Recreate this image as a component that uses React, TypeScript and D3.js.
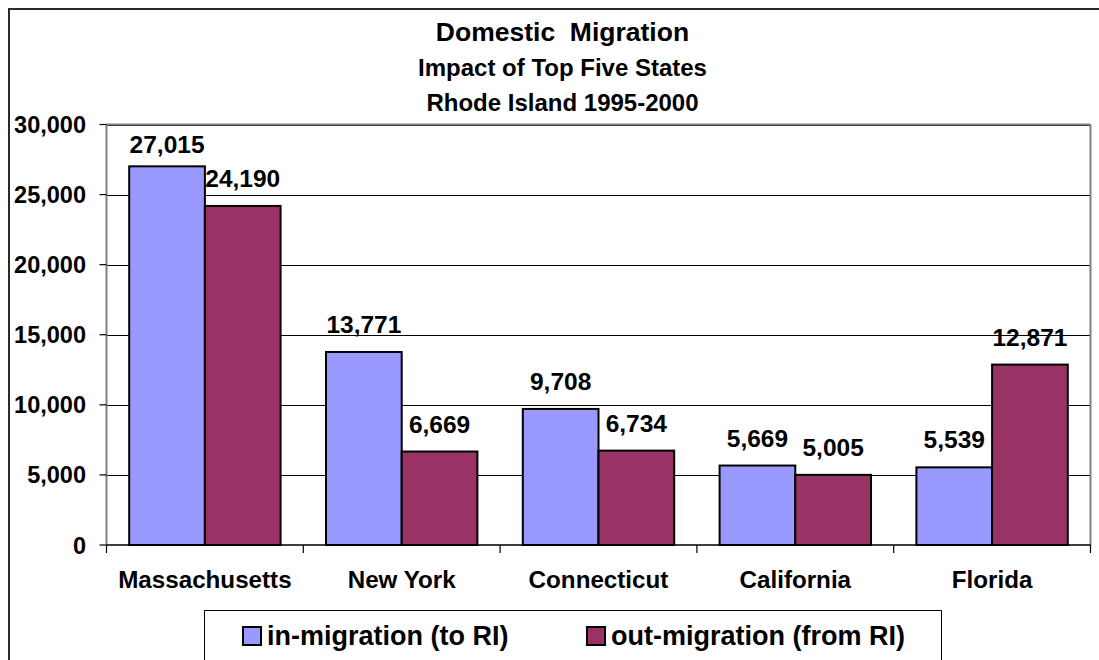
import React from "react";
import * as d3 from "d3";

const titleLines = ["Domestic  Migration", "Impact of Top Five States", "Rhode Island 1995-2000"];
const titleSizes = [26.5, 24, 24];
const categories = ["Massachusetts", "New York", "Connecticut", "California", "Florida"];
const seriesNames = ["in-migration (to RI)", "out-migration (from RI)"];
const inMigration = [27015, 13771, 9708, 5669, 5539];
const outMigration = [24190, 6669, 6734, 5005, 12871];
const yTicks = [0, 5000, 10000, 15000, 20000, 25000, 30000];
const colors = ["#9999FF", "#993366"];

const FONT = "Arial, 'Liberation Sans', Helvetica, sans-serif";

export default function App() {
  const W = 1099;
  const H = 660;
  const plot = { left: 106.5, right: 1090.5, top: 124.5, bottom: 545 };

  const x = d3.scaleBand<string>().domain(categories).range([plot.left, plot.right]).padding(0);
  const inner = d3
    .scaleBand<string>()
    .domain(seriesNames)
    .range([0, x.bandwidth()])
    .paddingInner(0)
    .paddingOuter(0.3);
  const y = d3.scaleLinear().domain([0, 30000]).range([plot.bottom, plot.top]);
  const fmt = d3.format(",");

  const seriesValues = [inMigration, outMigration];
  const boundaries = [...categories.map((c) => x(c) as number), plot.right];

  return (
    <svg
      width={W}
      height={H}
      style={{ display: "block", position: "fixed", left: 0, top: 0 }}
    >
      <g fontFamily={FONT} fontWeight="bold">
        <rect x={0} y={0} width={W} height={H} fill="#ffffff" />

        {/* title */}
        {titleLines.map((t, i) => (
          <text
            key={t}
            x={562.5}
            y={41 + i * 35}
            textAnchor="middle"
            fontSize={titleSizes[i]}
            fill="#000"
            style={{ whiteSpace: "pre" }}
          >
            {t}
          </text>
        ))}

        {/* gridlines */}
        {yTicks
          .filter((v) => v > 0)
          .map((v) => (
            <line key={v} x1={plot.left} x2={plot.right} y1={Math.round(y(v)) + 0.5} y2={Math.round(y(v)) + 0.5} stroke="#000" strokeWidth={1} />
          ))}

        {/* bars */}
        {categories.map((c, ci) =>
          seriesNames.map((s, si) => {
            const v = seriesValues[si][ci];
            const bx = (x(c) as number) + (inner(s) as number);
            return (
              <rect
                key={c + s}
                x={bx}
                y={y(v)}
                width={inner.bandwidth()}
                height={plot.bottom - y(v)}
                fill={colors[si]}
                stroke="#000"
                strokeWidth={2}
              />
            );
          })
        )}

        {/* plot border */}
        <line x1={plot.left} x2={plot.right} y1={plot.top} y2={plot.top} stroke="#808080" strokeWidth={2} />
        <line x1={plot.left} x2={plot.left} y1={plot.top} y2={plot.bottom} stroke="#808080" strokeWidth={2} />
        <line x1={plot.right} x2={plot.right} y1={plot.top} y2={plot.bottom} stroke="#808080" strokeWidth={2} />
        <line x1={plot.left} x2={plot.right} y1={plot.bottom} y2={plot.bottom} stroke="#000" strokeWidth={1.5} />

        {/* y ticks */}
        {yTicks.map((v) => (
          <g key={v}>
            <line x1={plot.left - 7} x2={plot.left} y1={y(v)} y2={y(v)} stroke="#000" strokeWidth={1.2} />
            <text x={86} y={y(v) + 8.5} textAnchor="end" fontSize={23.5} fill="#000">
              {fmt(v)}
            </text>
          </g>
        ))}

        {/* x ticks */}
        {boundaries.map((b, i) => (
          <line key={i} x1={b} x2={b} y1={plot.bottom} y2={plot.bottom + 8} stroke="#000" strokeWidth={1.2} />
        ))}

        {/* category labels */}
        {categories.map((c) => (
          <text key={c} x={(x(c) as number) + x.bandwidth() / 2} y={588} textAnchor="middle" fontSize={24.2} fill="#000">
            {c}
          </text>
        ))}

        {/* data labels */}
        {categories.map((c, ci) =>
          seriesNames.map((s, si) => {
            const v = seriesValues[si][ci];
            const cx = (x(c) as number) + (inner(s) as number) + inner.bandwidth() / 2;
            const by = Math.max(y(v) - 19, plot.top + 28);
            return (
              <text key={"l" + c + s} x={cx} y={by} textAnchor="middle" fontSize={24.5} fill="#000">
                {fmt(v)}
              </text>
            );
          })
        )}

        {/* legend */}
        <path d="M204.5,662 V610.5 H941.5 V662" fill="#fff" stroke="#000" strokeWidth={1} />
        {seriesNames.map((s, i) => {
          const lx = i === 0 ? 243 : 587;
          return (
            <g key={s}>
              <rect x={lx} y={627} width={18} height={18} fill={colors[i]} stroke="#000" strokeWidth={2} />
              <text x={lx + 24} y={645} fontSize={27} fill="#000">
                {s}
              </text>
            </g>
          );
        })}

        {/* outer chart border: only top and left edges fall inside the frame */}
        <path d="M9,662 V9 H1100" fill="none" stroke="#2a2a2a" strokeWidth={2} />
      </g>
    </svg>
  );
}
